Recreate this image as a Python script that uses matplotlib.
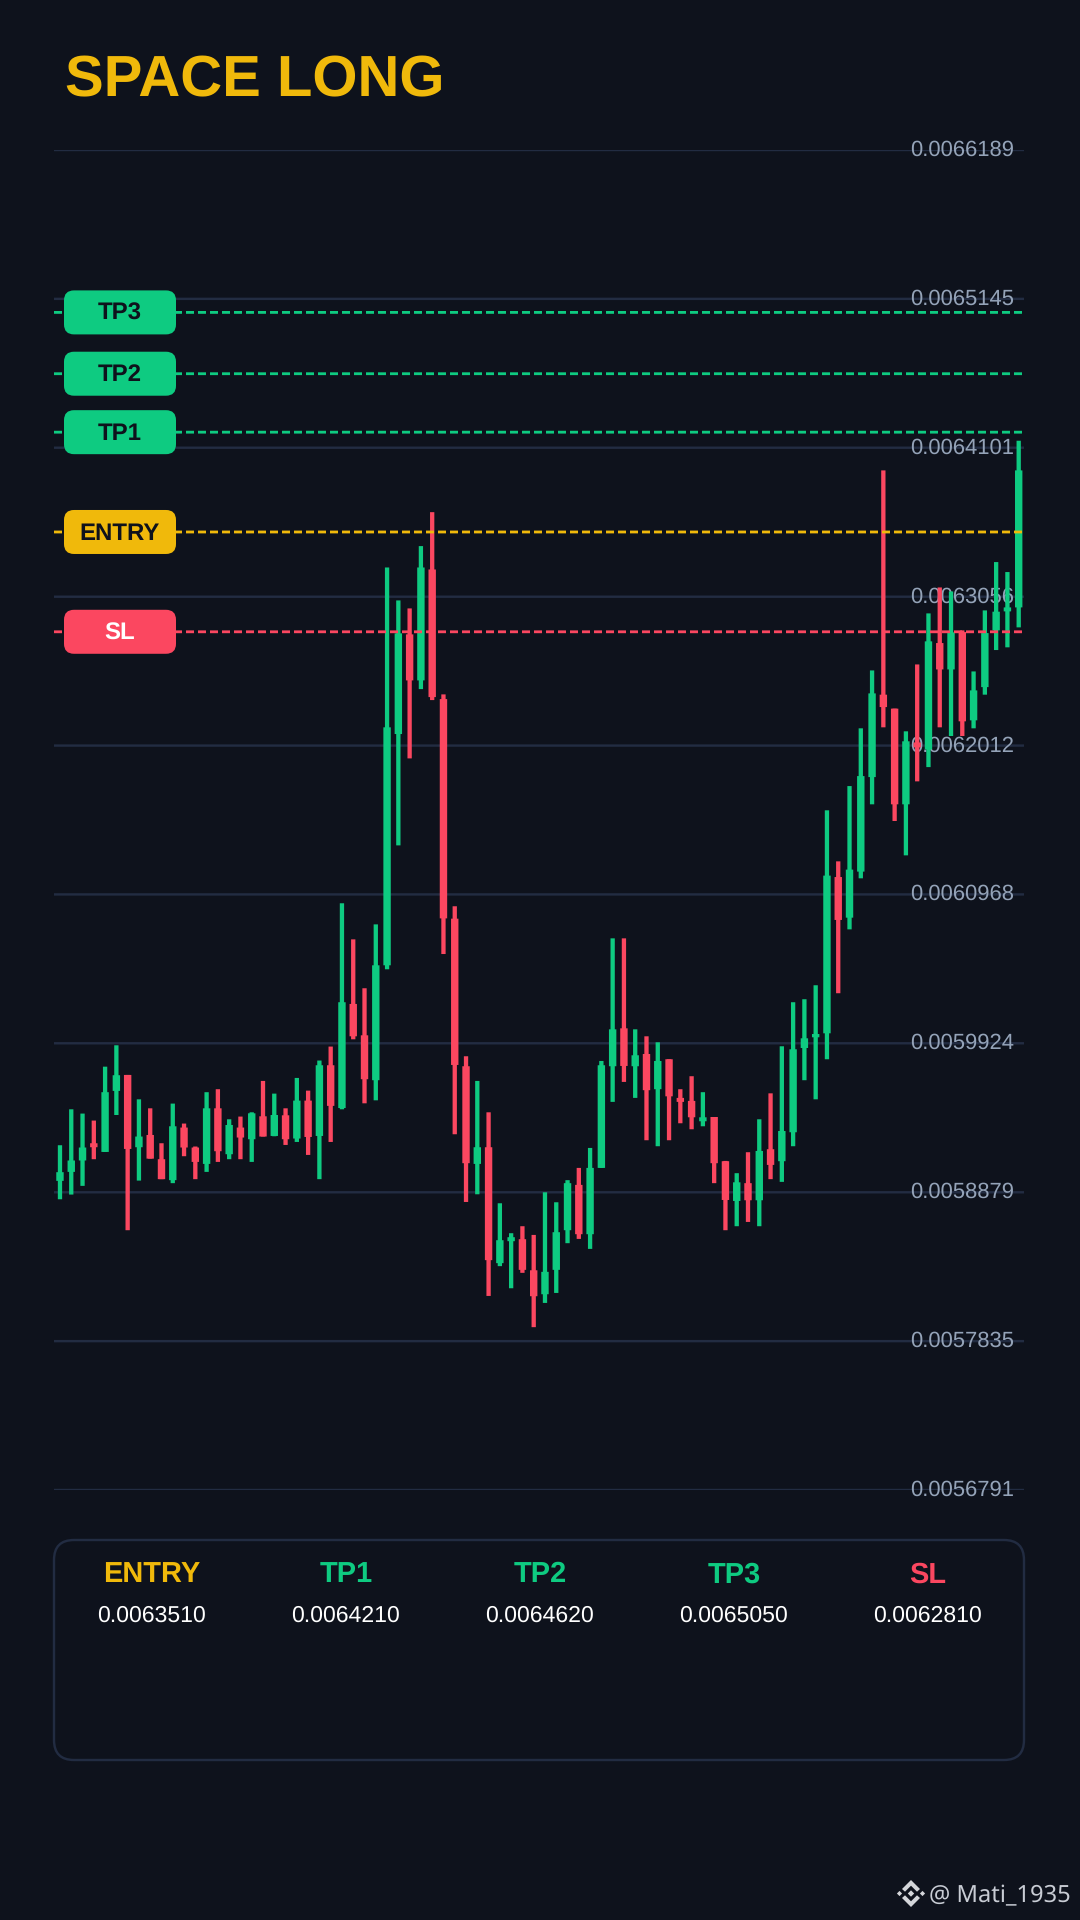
import matplotlib
matplotlib.use("Agg")
import matplotlib.pyplot as plt
from matplotlib.patches import FancyBboxPatch, Polygon
from matplotlib.transforms import ScaledTranslation
import numpy as np

plt.rcParams['font.family'] = ['Liberation Sans', 'DejaVu Sans']
plt.rcParams['text.hinting'] = 'none'
plt.rcParams['text.hinting_factor'] = 1

opens = [0.0058959,0.0059022,0.0059102,0.0059223,0.0059162,0.0059590,0.0059702,0.0059195,0.0059281,0.0059111,
         0.0058964,0.0059333,0.0059193,0.0059078,0.0059468,0.0059146,0.0059333,0.0059251,0.0059412,0.0059274,
         0.0059419,0.0059256,0.0059522,0.0059274,0.0059770,0.0059470,0.0060200,0.0059980,0.0059665,0.0060471,
         0.0062093,0.0062792,0.0062469,0.0063247,0.0062338,0.0060798,0.0059763,0.0059078,0.0059195,0.0058382,
         0.0058536,0.0058550,0.0058332,0.0058164,0.0058335,0.0058613,0.0058931,0.0058585,0.0059050,0.0059763,
         0.0060029,0.0059763,0.0059849,0.0059602,0.0059812,0.0059541,0.0059520,0.0059377,0.0059407,0.0059097,
         0.0058818,0.0058943,0.0058823,0.0059181,0.0059097,0.0059300,0.0059891,0.0059966,0.0059994,0.0061090,
         0.0060805,0.0061128,0.0061791,0.0062369,0.0062271,0.0061600,0.0062034,0.0061985,0.0062731,0.0062546,
         0.0062808,0.0062189,0.0062422,0.0062820,0.0062953,0.0062981]
highs = [0.0059209,0.0059461,0.0059431,0.0059382,0.0059760,0.0059910,0.0059702,0.0059531,0.0059468,0.0059223,
         0.0059501,0.0059361,0.0059200,0.0059581,0.0059602,0.0059391,0.0059410,0.0059440,0.0059660,0.0059571,
         0.0059468,0.0059681,0.0059592,0.0059803,0.0059901,0.0060906,0.0060653,0.0060310,0.0060758,0.0063261,
         0.0063030,0.0062974,0.0063411,0.0063649,0.0062371,0.0060885,0.0059833,0.0059660,0.0059440,0.0058802,
         0.0058592,0.0058641,0.0058580,0.0058879,0.0058809,0.0058964,0.0059050,0.0059190,0.0059800,0.0060660,
         0.0060660,0.0060022,0.0059973,0.0059931,0.0059812,0.0059602,0.0059693,0.0059581,0.0059407,0.0059099,
         0.0059013,0.0059160,0.0059391,0.0059573,0.0059903,0.0060212,0.0060233,0.0060331,0.0061558,0.0061200,
         0.0061728,0.0062133,0.0062539,0.0063942,0.0062271,0.0062112,0.0062581,0.0062939,0.0063121,0.0063093,
         0.0062820,0.0062532,0.0062960,0.0063299,0.0063229,0.0064150]
lows = [0.0058830,0.0058863,0.0058924,0.0059111,0.0059162,0.0059421,0.0058613,0.0058961,0.0059115,0.0058971,
        0.0058943,0.0059132,0.0058971,0.0059022,0.0059092,0.0059111,0.0059111,0.0059092,0.0059270,0.0059272,
        0.0059211,0.0059232,0.0059141,0.0058971,0.0059232,0.0059461,0.0059952,0.0059503,0.0059524,0.0060443,
        0.0061312,0.0061922,0.0062408,0.0062331,0.0060550,0.0059286,0.0058811,0.0058865,0.0058152,0.0058361,
        0.0058206,0.0058314,0.0057933,0.0058103,0.0058173,0.0058522,0.0058552,0.0058482,0.0059050,0.0059513,
        0.0059653,0.0059541,0.0059244,0.0059202,0.0059244,0.0059363,0.0059321,0.0059342,0.0058943,0.0058613,
        0.0058641,0.0058671,0.0058641,0.0058971,0.0058952,0.0059202,0.0059665,0.0059531,0.0059812,0.0060275,
        0.0060723,0.0061081,0.0061600,0.0062140,0.0061483,0.0061242,0.0061761,0.0061861,0.0062140,0.0062079,
        0.0062079,0.0062133,0.0062369,0.0062682,0.0062701,0.0062841]
closes = [0.0059020,0.0059102,0.0059193,0.0059195,0.0059581,0.0059700,0.0059183,0.0059270,0.0059115,0.0058971,
          0.0059342,0.0059193,0.0059092,0.0059468,0.0059167,0.0059351,0.0059263,0.0059433,0.0059270,0.0059421,
          0.0059251,0.0059522,0.0059267,0.0059770,0.0059485,0.0060212,0.0059973,0.0059672,0.0060471,0.0062140,
          0.0062799,0.0062469,0.0063261,0.0062352,0.0060800,0.0059772,0.0059083,0.0059195,0.0058403,0.0058543,
          0.0058564,0.0058335,0.0058150,0.0058321,0.0058599,0.0058943,0.0058585,0.0059050,0.0059770,0.0060022,
          0.0059765,0.0059840,0.0059595,0.0059800,0.0059552,0.0059513,0.0059405,0.0059405,0.0059083,0.0058825,
          0.0058949,0.0058823,0.0059169,0.0059071,0.0059309,0.0059882,0.0059959,0.0059989,0.0061100,0.0060789,
          0.0061142,0.0061798,0.0062378,0.0062282,0.0061600,0.0062042,0.0061999,0.0062743,0.0062546,0.0062806,
          0.0062182,0.0062399,0.0062801,0.0062951,0.0062981,0.0063942]

grid_labels = ["0.0066189","0.0065145","0.0064101","0.0063056","0.0062012",
               "0.0060968","0.0059924","0.0058879","0.0057835","0.0056791"]
level_names = ["ENTRY","TP1","TP2","TP3","SL"]
level_texts = ["0.0063510","0.0064210","0.0064620","0.0065050","0.0062810"]
title_text = "SPACE LONG"
watermark = "@ Mati_1935"

BG = "#0e121c"; GRID = "#222c42"; TICK = "#94a3b8"
GOLD = "#f0b90b"; GREEN = "#0ecb81"; RED = "#fb4760"
level_colors = [GOLD, GREEN, GREEN, GREEN, RED]
badge_text_colors = [BG, BG, BG, BG, "#ffffff"]

W, H = 1080, 1920
fig = plt.figure(figsize=(W/100, H/100), dpi=100, facecolor=BG)
px = 72/100

def fs(p):
    return p*px

ax = fig.add_axes([54/W, 1-1490/H, 970/W, 1340/H], facecolor=BG)
grid_vals = [float(s) for s in grid_labels]
ax.set_ylim(grid_vals[-1], grid_vals[0])
ax.set_xlim(-0.53, len(opens)-0.53)
for s in ax.spines.values():
    s.set_visible(False)
ax.set_xticks([])
ax.set_axisbelow(True)
ax.yaxis.tick_right()
ax.set_yticks(grid_vals)
ax.set_yticklabels(grid_labels)
ax.tick_params(axis='y', length=0, pad=-9.5*px, labelsize=fs(21.8), labelcolor=TICK)
up = ScaledTranslation(0, 2.2/100, fig.dpi_scale_trans)
for lab in ax.get_yticklabels():
    lab.set_ha('right')
    lab.set_transform(lab.get_transform() + up)
ax.grid(axis='y', color=GRID, lw=2.4*px, snap=False)

o = np.array(opens); h = np.array(highs); l = np.array(lows); c = np.array(closes)
x = np.arange(len(o))
cols = [GREEN if ci >= oi else RED for oi, ci in zip(o, c)]
unit = 970/len(o)
for r in ax.bar(x, h-l, bottom=l, width=4.3/unit, color=cols, lw=0, zorder=2):
    r.set_snap(False)
for r in ax.bar(x, np.abs(c-o), bottom=np.minimum(o, c), width=7.4/unit, color=cols, lw=0, zorder=3):
    r.set_snap(False)

level_vals = [float(s) for s in level_texts]
LW = 2.8
for v, col in zip(level_vals, level_colors):
    ax.plot(ax.get_xlim(), [v, v], color=col, lw=LW*px, ls=(0, (8/LW, 4/LW)),
            dash_capstyle='butt', zorder=4, snap=False)

ov = fig.add_axes([0, 0, 1, 1], facecolor='none')
ov.set_xlim(0, W); ov.set_ylim(H, 0); ov.axis('off')

def ypx(v):
    return H - ax.transData.transform((0, v))[1]

for name, v, col, tc in zip(level_names, level_vals, level_colors, badge_text_colors):
    y = ypx(v)
    ov.add_patch(FancyBboxPatch((64+10, y-22+10), 112-20, 44-20,
                                boxstyle="round,pad=10,rounding_size=10",
                                fc=col, ec='none', zorder=5))
    ov.text(120, y-1, name, color=tc, fontsize=fs(24.3), fontweight='bold',
            ha='center', va='center_baseline', zorder=6)

ov.text(65, 96.7, title_text, color=GOLD, fontsize=fs(58.3), fontweight='bold',
        ha='left', va='baseline')

ov.add_patch(FancyBboxPatch((54+20, 1540+20), 970-40, 220-40,
                            boxstyle="round,pad=20,rounding_size=20",
                            fc='none', ec=GRID, lw=2.4*px, zorder=3))
for i, (name, txt, col) in enumerate(zip(level_names, level_texts, level_colors)):
    cx = 54.8 + 97 + 194*i
    ov.text(cx, 1582.3, name, color=col, fontsize=fs(29), fontweight='bold',
            ha='center', va='baseline')
    ov.text(cx, 1622, txt, color='#ffffff', fontsize=fs(23.4), ha='center', va='baseline')

# watermark logo
LOGO = "#d4d6da"
cx, cy = 911, 1893.5
def diamond(x0, y0, r):
    ov.add_patch(Polygon([(x0-r, y0), (x0, y0-r), (x0+r, y0), (x0, y0+r)], fc=LOGO, ec='none'))
diamond(cx, cy, 3.2); diamond(cx-11.5, cy, 2.6); diamond(cx+11.5, cy, 2.6)
for s in (-1, 1):
    ov.add_patch(Polygon([(cx-9, cy+s*4.5), (cx, cy+s*13.5), (cx+9, cy+s*4.5),
                          (cx+6, cy+s*1.8), (cx, cy+s*7.8), (cx-6, cy+s*1.8)],
                         fc=LOGO, ec='none'))

ov.text(1071, 1902.7, watermark, color="#c8ccd4", fontsize=fs(23.7), family=['Noto Sans', 'DejaVu Sans'],
        ha='right', va='baseline')

fig.savefig("out.png", dpi=100, facecolor=BG)
